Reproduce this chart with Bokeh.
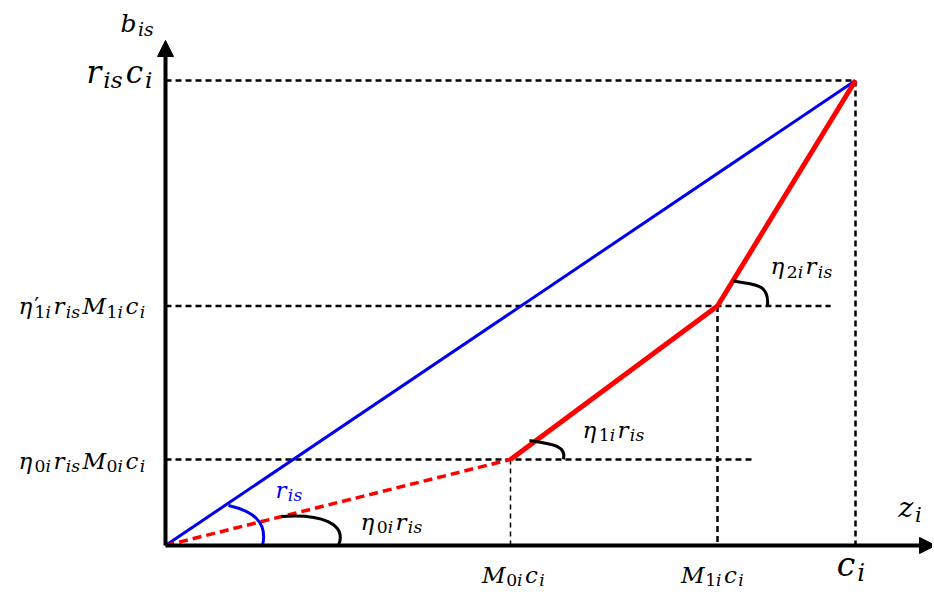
import re
from bokeh.plotting import figure
from bokeh.models import Range1d, Arrow, NormalHead
from bokeh.core.properties import value
from bokeh.embed import file_html
from bokeh.resources import INLINE

# ---- data (fractions of c_i on z axis, of r_is*c_i on b axis) ----
z_breaks = [0.0, 0.50, 0.80, 1.00]          # 0, M0i*ci, M1i*ci, ci
b_breaks = [0.0, 0.185, 0.515, 1.00]        # 0, eta0*r*M0*c, eta1'*r*M1*c, r*c
x_tick_labels = ["M_{0i}c_{i}", "M_{1i}c_{i}", "c_{i}"]
y_tick_labels = ["η_{0i}r_{is}M_{0i}c_{i}", "η'_{1i}r_{is}M_{1i}c_{i}", "r_{is}c_{i}"]
slope_labels = ["η_{0i}r_{is}", "η_{1i}r_{is}", "η_{2i}r_{is}"]
axis_labels = ["z_{i}", "b_{is}"]
blue_label = "r_{is}"

# ---- layout ----
W, H = 932, 592
SX, SY = 690.0, 465.0          # pixels per data unit
OX, OY = 165, H - 545          # origin inside the figure (px from left / from bottom)

def at(x, y, dx, dy):
    """anchor + pixel offset (dy positive = down)"""
    return x + dx / SX, y - dy / SY

p = figure(width=W, height=H, output_backend="svg", toolbar_location=None,
           x_axis_type=None, y_axis_type=None,
           x_range=Range1d(-OX / SX, (W - OX) / SX),
           y_range=Range1d(-OY / SY, (H - OY) / SY),
           min_border=0, min_border_left=0, min_border_right=0,
           min_border_top=0, min_border_bottom=0)
p.grid.visible = False
p.outline_line_color = None

z0, zM0, zM1, zc = z_breaks
b0, bM0, bM1, bc = b_breaks
X_END = 1.116
Y_END = 1.086
BLUE = "#0000ee"
FONT = value("DejaVu Serif")

# dashed guides
p.line([0, zc], [bc, bc], line_color="black", line_width=2.5, line_dash="6 4")
p.line([zc, zc], [bc, 0], line_color="black", line_width=2.5, line_dash="6 4")
p.line([0, 0.964], [bM1, bM1], line_color="black", line_width=2.5, line_dash="6 4")
p.line([zM1, zM1], [bM1, 0], line_color="black", line_width=2.5, line_dash="6 4")
p.line([0, 0.855], [bM0, bM0], line_color="black", line_width=2.5, line_dash="6 4")
p.line([zM0, zM0], [bM0, 0], line_color="black", line_width=1.5, line_dash="5 4")

# blue reference line
p.line([z0, zc], [b0, bc], line_color=BLUE, line_width=3)
# red piecewise
p.line(z_breaks[:2], b_breaks[:2], line_color="red", line_width=3.5, line_dash="9 5")
p.line(z_breaks[1:], b_breaks[1:], line_color="red", line_width=5)

# angle hooks (pixel offsets from vertices)
def hook(vx, vy, pts, color):
    (sx_, sy_), (c1x, c1y), (c2x, c2y), (ex, ey) = pts
    x0, y0 = at(vx, vy, sx_, sy_)
    cx0, cy0 = at(vx, vy, c1x, c1y)
    cx1, cy1 = at(vx, vy, c2x, c2y)
    x1, y1 = at(vx, vy, ex, ey)
    p.bezier(x0=[x0], y0=[y0], x1=[x1], y1=[y1], cx0=[cx0], cy0=[cy0],
             cx1=[cx1], cy1=[cy1], line_color=color, line_width=3)

hook(z0, b0, [(63, -40), (85, -35), (103, -25), (97, 0)], BLUE)
hook(z0, b0, [(116, -29), (155, -32), (182, -22), (173, 0)], "black")
hook(zM0, bM0, [(19, -19), (37, -16), (57, -15), (53, 0)], "black")
hook(zM1, bM1, [(16, -25), (35, -21), (52, -24), (50, 0)], "black")

# axes with arrow heads
p.add_layout(Arrow(end=NormalHead(size=16, fill_color="black", line_color="black"),
                   x_start=0, y_start=0, x_end=X_END, y_end=0,
                   line_color="black", line_width=4))
p.add_layout(Arrow(end=NormalHead(size=16, fill_color="black", line_color="black"),
                   x_start=0, y_start=0, x_end=0, y_end=Y_END,
                   line_color="black", line_width=4))

# ---- small math-text layout: base letters + subscripts + prime ----
EM = {'η': 0.644, 'r': 0.478, 'i': 0.32, 's': 0.513, 'M': 0.99, 'c': 0.561,
      'z': 0.525, 'b': 0.64, "'": 0.30, '0': 0.636, '1': 0.636, '2': 0.636}
BASE_FIX = 0.38      # empirical baseline correction (fraction of font size)

def parse(tex):
    return re.findall(r"_\{[^}]*\}|'|[^_'{}]", tex)

def math_text(ax, ay, tex, size, align="left", color="black", dx=0, dy=0):
    placed = []
    cursor = 0.0
    prime_start = None
    for tok in parse(tex):
        if tok.startswith("_{"):
            s = size * 0.75
            start = prime_start if prime_start is not None else cursor
            c = start
            for ch in tok[2:-1]:
                placed.append((ch, c, 0.24 * size, s, "normal" if ch.isdigit() else "italic"))
                c += EM.get(ch, 0.55) * s
            cursor = max(c, cursor) + 0.10 * size
            prime_start = None
        elif tok == "'":
            placed.append(("′", cursor - 0.02 * size, -0.02 * size, size * 0.95, "normal"))
            prime_start = cursor
            cursor += 0.25 * size
        else:
            placed.append((tok, cursor, 0.0, size, "italic"))
            cursor += EM.get(tok, 0.55) * size + 0.06 * size
            prime_start = None
    total = cursor
    shift = {"left": 0.0, "right": -total, "center": -total / 2}[align]
    for ch, px, drop, fs, style in placed:
        x, y = at(ax, ay, dx + shift + px, dy + drop - BASE_FIX * size)
        p.text(x=[x], y=[y], text=[ch], text_font=FONT, text_font_style=style,
               text_font_size=f"{fs:.1f}px", text_align="left",
               text_baseline="alphabetic", text_color=color)

# y-level labels
math_text(0, bc, y_tick_labels[2], 31, "right", dx=-10, dy=3)
math_text(0, bM1, y_tick_labels[1], 23, "right", dx=-18, dy=9)
math_text(0, bM0, y_tick_labels[0], 23, "right", dx=-18, dy=10)

# x-level labels
math_text(zM0, 0, x_tick_labels[0], 23, "center", dx=4, dy=38)
math_text(zM1, 0, x_tick_labels[1], 23, "center", dx=-4, dy=38)
math_text(zc, 0, x_tick_labels[2], 33, "center", dx=-3, dy=32)

# axis names
math_text(X_END, 0, axis_labels[0], 28, "left", dx=-37, dy=-27)
math_text(0, Y_END, axis_labels[1], 25, "left", dx=-45, dy=-8)

# slope labels
math_text(z0, b0, blue_label, 23, "left", color=BLUE, dx=110, dy=-47)
math_text(z0, b0, slope_labels[0], 23, "left", dx=195, dy=-15)
math_text(zM0, bM0, slope_labels[1], 23, "left", dx=72, dy=-21)
math_text(zM1, bM1, slope_labels[2], 23, "left", dx=53, dy=-31)

open("out.html", "w").write(file_html(p, INLINE))
